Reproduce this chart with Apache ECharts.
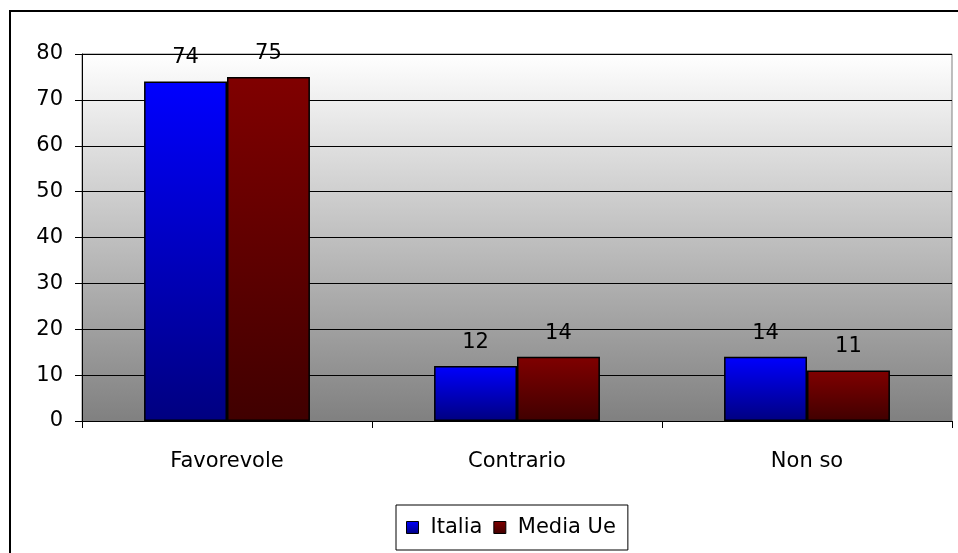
<!DOCTYPE html>
<html>
<head>
<meta charset="utf-8">
<script src="https://cdn.jsdelivr.net/npm/echarts@6/dist/echarts.min.js"></script>
<style>
html,body{margin:0;padding:0;background:#fff;}
#c{width:958px;height:553px;}
</style>
</head>
<body>
<div id="c"></div>
<script>
var categories = ['Favorevole', 'Contrario', 'Non so'];
var italia = [74, 12, 14];
var mediaUe = [75, 14, 11];
var seriesNames = ['Italia', 'Media Ue'];
var yTicks = {min: 0, max: 80, interval: 10};

var chart = echarts.init(document.getElementById('c'));
var font = '"DejaVu Sans", Arial, sans-serif';
function grad(top, bottom) {
  return new echarts.graphic.LinearGradient(0, 0, 0, 1, [
    {offset: 0, color: top}, {offset: 1, color: bottom}
  ]);
}
var labelCfg = {
  show: true, position: 'top', distance: 13,
  color: '#000', fontSize: 21, fontFamily: font
};
chart.setOption({
  animation: false,
  backgroundColor: '#fff',
  graphic: [{
    type: 'rect', silent: true,
    shape: {x: 10, y: 11, width: 1000, height: 600},
    style: {fill: 'none', stroke: '#000', lineWidth: 2}
  }],
  grid: {
    left: 82, right: 6, top: 54, bottom: 132,
    show: true,
    borderColor: '#808080', borderWidth: 1,
    backgroundColor: grad('#ffffff', '#808080')
  },
  legend: {
    data: seriesNames,
    top: 505, left: 396,
    itemWidth: 12, itemHeight: 12, itemGap: 11,
    icon: 'rect',
    borderColor: '#000', borderWidth: 1,
    padding: [12, 12, 12, 10],
    itemStyle: {borderColor: '#000', borderWidth: 1},
    textStyle: {color: '#000', fontSize: 21, fontFamily: font, padding: [0, 0, 0, 7]}
  },
  xAxis: {
    type: 'category',
    data: categories,
    axisLine: {show: true, lineStyle: {color: '#000', width: 1}},
    axisTick: {show: true, length: 7, lineStyle: {color: '#000'}},
    axisLabel: {color: '#000', fontSize: 21, fontFamily: font, margin: 30}
  },
  yAxis: {
    type: 'value',
    min: yTicks.min, max: yTicks.max, interval: yTicks.interval,
    axisLine: {show: true, lineStyle: {color: '#000', width: 1}},
    axisTick: {show: true, length: 7, lineStyle: {color: '#000'}},
    axisLabel: {color: '#000', fontSize: 21, fontFamily: font, margin: 19},
    splitLine: {show: true, lineStyle: {color: '#000', width: 1}}
  },
  series: [{
    name: seriesNames[0], type: 'bar', data: italia,
    barGap: '0%', barCategoryGap: '42.8%',
    itemStyle: {color: grad('#0000ff', '#000080'), borderColor: '#000', borderWidth: 1.5},
    label: labelCfg
  }, {
    name: seriesNames[1], type: 'bar', data: mediaUe,
    barGap: '0%', barCategoryGap: '42.8%',
    itemStyle: {color: grad('#800000', '#400000'), borderColor: '#000', borderWidth: 1.5},
    label: labelCfg
  }]
});
</script>
</body>
</html>
